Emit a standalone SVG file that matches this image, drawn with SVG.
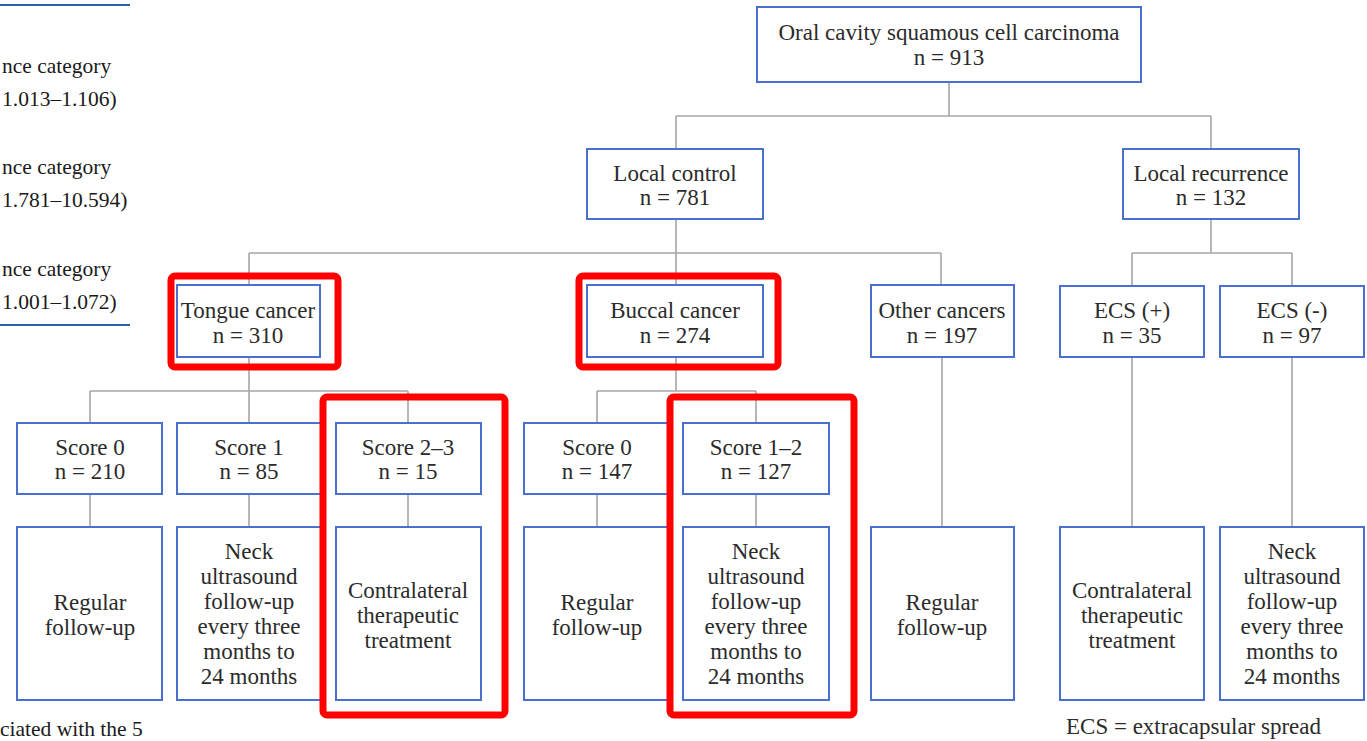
<svg xmlns="http://www.w3.org/2000/svg" width="1367" height="741" viewBox="0 0 1367 741">
<style>
.box{fill:#fff;stroke:#4a6fcc;stroke-width:2}
.hl{fill:none;stroke:#ff0000;stroke-width:7}
.t{font-family:"Liberation Serif","Times New Roman",serif;font-size:23px;fill:#2b2b2b;text-anchor:middle}
.side{font-family:"Liberation Serif","Times New Roman",serif;font-size:21.5px;fill:#1a1a1a;text-anchor:start}
.rule{stroke:#2d5fa8;stroke-width:2}
#connectors path{fill:none;stroke:#a6a6a6;stroke-width:1.6}
</style>
<rect width="1367" height="741" fill="#fff"/>
<g id="sidetext">
<line class="rule" x1="0" y1="5" x2="130" y2="5"/>
<text class="side" x="2" y="73">nce category</text>
<text class="side" x="2" y="106">1.013–1.106)</text>
<text class="side" x="2" y="174">nce category</text>
<text class="side" x="2" y="207">1.781–10.594)</text>
<text class="side" x="2" y="276">nce category</text>
<text class="side" x="2" y="309">1.001–1.072)</text>
<line class="rule" x1="0" y1="325" x2="130" y2="325"/>
<text class="side" x="0" y="736">ciated with the 5</text>
</g>
<g id="connectors">
<path d="M949 82V116M676 116H1211M676 116V149M1211 116V149"/>
<path d="M676 219V253M249 253H941M249 253V285M676 253V285M941 253V285"/>
<path d="M1211 219V253M1132 253H1292M1132 253V286M1292 253V286"/>
<path d="M249 357V391M90 391H408M90 391V423M249 391V423M408 391V423"/>
<path d="M676 357V391M597 391H756M597 391V423M756 391V423"/>
<path d="M90 494V527M249 494V527M408 494V527M597 494V527M756 494V527"/>
<path d="M942 357V527M1132 357V527M1292 357V527"/>
</g>
<g id="root"><rect class="box" x="757" y="7" width="384" height="75"/><text class="t" x="949" y="40">Oral cavity squamous cell carcinoma</text><text class="t" x="949" y="65">n = 913</text></g>
<g id="localcontrol"><rect class="box" x="587" y="149" width="176" height="70"/><text class="t" x="675" y="181">Local control</text><text class="t" x="675" y="205">n = 781</text></g>
<g id="localrecurrence"><rect class="box" x="1123" y="149" width="176" height="70"/><text class="t" x="1211" y="181">Local recurrence</text><text class="t" x="1211" y="205">n = 132</text></g>
<g id="tongue"><rect class="box" x="177" y="285" width="143" height="72"/><text class="t" x="248" y="318">Tongue cancer</text><text class="t" x="248" y="343">n = 310</text></g>
<g id="buccal"><rect class="box" x="587" y="285" width="176" height="72"/><text class="t" x="675" y="318">Buccal cancer</text><text class="t" x="675" y="343">n = 274</text></g>
<g id="other"><rect class="box" x="871" y="285" width="143" height="72"/><text class="t" x="942" y="318">Other cancers</text><text class="t" x="942" y="343">n = 197</text></g>
<g id="ecspos"><rect class="box" x="1060" y="286" width="144" height="71"/><text class="t" x="1132" y="318">ECS (+)</text><text class="t" x="1132" y="343">n = 35</text></g>
<g id="ecsneg"><rect class="box" x="1220" y="286" width="144" height="71"/><text class="t" x="1292" y="318">ECS (-)</text><text class="t" x="1292" y="343">n = 97</text></g>
<g id="t-score0"><rect class="box" x="17" y="423" width="145" height="71"/><text class="t" x="90" y="455">Score 0</text><text class="t" x="90" y="479">n = 210</text></g>
<g id="t-score1"><rect class="box" x="177" y="423" width="145" height="71"/><text class="t" x="249" y="455">Score 1</text><text class="t" x="249" y="479">n = 85</text></g>
<g id="t-score23"><rect class="box" x="336" y="423" width="145" height="71"/><text class="t" x="408" y="455">Score 2–3</text><text class="t" x="408" y="479">n = 15</text></g>
<g id="b-score0"><rect class="box" x="524" y="423" width="145" height="71"/><text class="t" x="597" y="455">Score 0</text><text class="t" x="597" y="479">n = 147</text></g>
<g id="b-score12"><rect class="box" x="683" y="423" width="146" height="71"/><text class="t" x="756" y="455">Score 1–2</text><text class="t" x="756" y="479">n = 127</text></g>
<g id="t-regular"><rect class="box" x="17" y="527" width="145" height="173"/><text class="t" x="90" y="610">Regular</text><text class="t" x="90" y="635">follow-up</text></g>
<g id="t-neck"><rect class="box" x="177" y="527" width="145" height="173"/><text class="t" x="249" y="559">Neck</text><text class="t" x="249" y="584">ultrasound</text><text class="t" x="249" y="609">follow-up</text><text class="t" x="249" y="634">every three</text><text class="t" x="249" y="659">months to</text><text class="t" x="249" y="684">24 months</text></g>
<g id="t-contra"><rect class="box" x="336" y="527" width="145" height="173"/><text class="t" x="408" y="598">Contralateral</text><text class="t" x="408" y="623">therapeutic</text><text class="t" x="408" y="648">treatment</text></g>
<g id="b-regular"><rect class="box" x="524" y="527" width="145" height="173"/><text class="t" x="597" y="610">Regular</text><text class="t" x="597" y="635">follow-up</text></g>
<g id="b-neck"><rect class="box" x="683" y="527" width="146" height="173"/><text class="t" x="756" y="559">Neck</text><text class="t" x="756" y="584">ultrasound</text><text class="t" x="756" y="609">follow-up</text><text class="t" x="756" y="634">every three</text><text class="t" x="756" y="659">months to</text><text class="t" x="756" y="684">24 months</text></g>
<g id="o-regular"><rect class="box" x="871" y="527" width="143" height="173"/><text class="t" x="942" y="610">Regular</text><text class="t" x="942" y="635">follow-up</text></g>
<g id="e-contra"><rect class="box" x="1060" y="527" width="144" height="173"/><text class="t" x="1132" y="598">Contralateral</text><text class="t" x="1132" y="623">therapeutic</text><text class="t" x="1132" y="648">treatment</text></g>
<g id="e-neck"><rect class="box" x="1220" y="527" width="144" height="173"/><text class="t" x="1292" y="559">Neck</text><text class="t" x="1292" y="584">ultrasound</text><text class="t" x="1292" y="609">follow-up</text><text class="t" x="1292" y="634">every three</text><text class="t" x="1292" y="659">months to</text><text class="t" x="1292" y="684">24 months</text></g>
<g id="highlights">
<rect class="hl" x="171" y="276" width="167" height="91" rx="4"/>
<rect class="hl" x="579" y="276" width="199" height="91" rx="4"/>
<rect class="hl" x="323" y="397" width="182" height="318" rx="4"/>
<rect class="hl" x="670" y="397" width="184" height="318" rx="4"/>
</g>
<text class="t" style="text-anchor:start" x="1066" y="734">ECS = extracapsular spread</text>
</svg>
